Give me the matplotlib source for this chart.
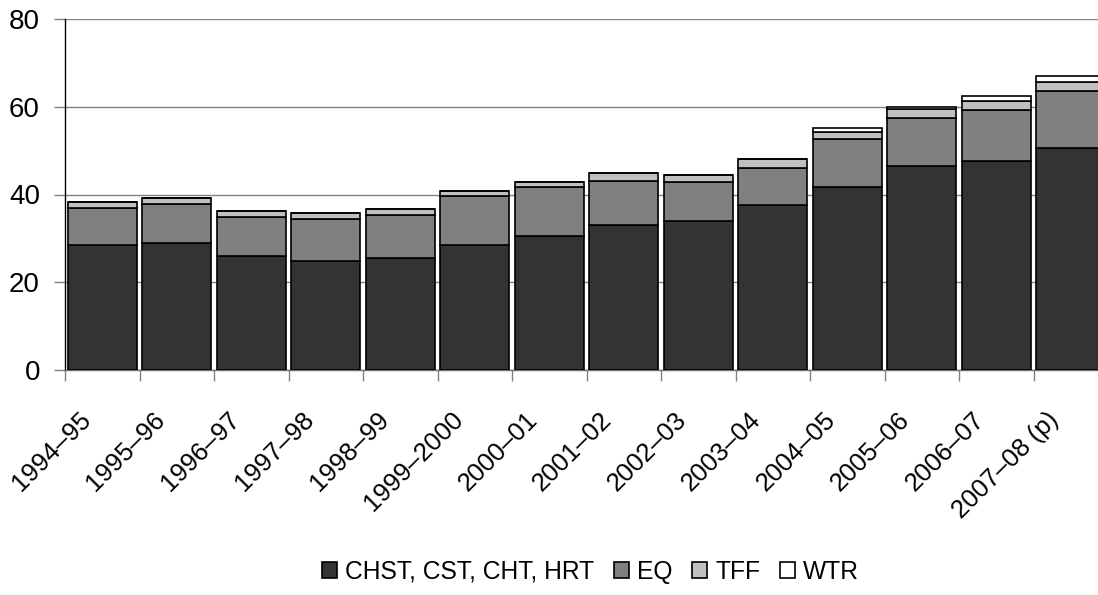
import matplotlib
matplotlib.use("Agg")
import matplotlib.pyplot as plt
import matplotlib.transforms as mtransforms
import numpy as np
from matplotlib.patches import Patch

plt.rcParams['font.family'] = ['Liberation Sans', 'DejaVu Sans']

years = ["1994–95", "1995–96", "1996–97", "1997–98", "1998–99", "1999–2000",
         "2000–01", "2001–02", "2002–03", "2003–04", "2004–05", "2005–06",
         "2006–07", "2007–08 (p)"]
chst = [28.5, 28.9, 26.0, 24.8, 25.6, 28.5, 30.5, 33.0, 33.9, 37.5, 41.6, 46.5, 47.7, 50.6]
eq   = [8.5, 8.9, 8.9, 9.7, 9.8, 11.1, 11.1, 10.1, 8.9, 8.6, 11.0, 11.0, 11.5, 13.0]
tff  = [1.4, 1.3, 1.3, 1.3, 1.2, 1.2, 1.2, 1.8, 1.7, 2.1, 1.7, 2.0, 2.0, 2.1]
wtr  = [0.0, 0.0, 0.0, 0.0, 0.2, 0.0, 0.0, 0.0, 0.0, 0.0, 0.8, 0.4, 1.3, 1.3]

series = [("CHST, CST, CHT, HRT", chst, "#333333"),
          ("EQ", eq, "#808080"),
          ("TFF", tff, "#c0c0c0"),
          ("WTR", wtr, "#ffffff")]

fig = plt.figure(figsize=(10.98, 5.95), dpi=100)
ax = fig.add_axes([65 / 1098, 225 / 595, 1043 / 1098, 351 / 595])

x = np.arange(len(years))
bottom = np.zeros(len(years))
for name, vals, color in series:
    vals = np.array(vals)
    ax.bar(x, vals, width=0.93, bottom=bottom, color=color, edgecolor="black",
           linewidth=1.2, zorder=3)
    bottom += vals

ax.set_xlim(-0.5, len(years) - 0.5)
ax.set_ylim(0, 80)
ax.set_yticks([0, 20, 40, 60, 80])
ax.yaxis.grid(True, color="#808080", linewidth=1.0, zorder=0)
ax.set_axisbelow(True)

for s in ("top", "right"):
    ax.spines[s].set_visible(False)
ax.spines["left"].set_color("black")
ax.spines["left"].set_linewidth(1.0)
ax.spines["bottom"].set_color("#707070")
ax.spines["bottom"].set_linewidth(1.0)

ax.tick_params(axis="y", direction="out", length=8, width=1, color="#808080",
               labelsize=20, pad=10)

# category boundaries carry the tick marks, centres carry the labels
ax.set_xticks(np.arange(len(years) + 1) - 0.5)
ax.set_xticklabels([])
ax.tick_params(axis="x", which="major", direction="out", length=8, width=1,
               color="#808080")
ax.set_xticks(x, minor=True)
ax.set_xticklabels(years, minor=True, rotation=45, ha="right", va="top",
                   rotation_mode="anchor", fontsize=18.5)
ax.tick_params(axis="x", which="minor", length=0, pad=27)
shift = mtransforms.ScaledTranslation(-24 / 100, 0, fig.dpi_scale_trans)
for lab in ax.get_xticklabels(minor=True):
    lab.set_transform(lab.get_transform() + shift)

handles = [Patch(facecolor=c, edgecolor="black", linewidth=1.2, label=n)
           for n, _, c in series]
fig.legend(handles=handles, loc="center", bbox_to_anchor=(0.538, 0.039),
           ncol=4, frameon=False, fontsize=17.7, handlelength=0.61,
           handleheight=0.61, handletextpad=0.33, columnspacing=0.8)

fig.savefig("out.png", dpi=100)
